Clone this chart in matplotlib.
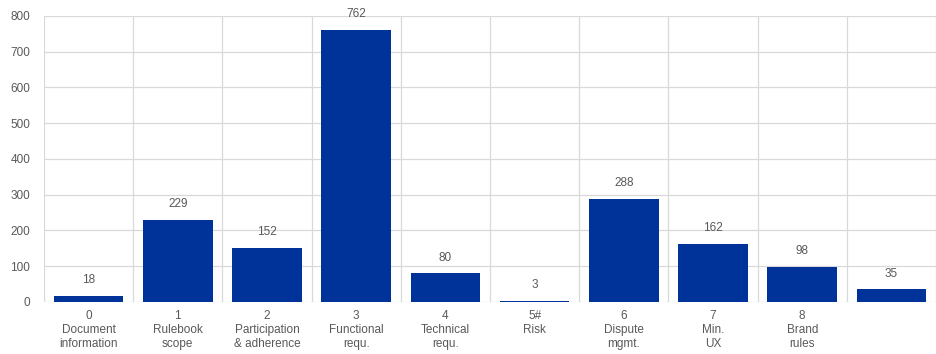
import numpy as np
import matplotlib.pyplot as plt

plt.rcParams['font.family'] = ['Liberation Sans', 'DejaVu Sans']

codes = ['0', '1', '2', '3', '4', '5#', '6', '7', '8', '']
names = ['Document\ninformation', 'Rulebook\nscope', 'Participation\n& adherence',
         'Functional\nrequ.', 'Technical\nrequ.', 'Risk', 'Dispute\nmgmt.',
         'Min.\nUX', 'Brand\nrules', '']
counts = [18, 229, 152, 762, 80, 3, 288, 162, 98, 35]

bar_color = '#003399'
text_color = '#595959'
grid_color = '#d9d9d9'

fig = plt.figure(figsize=(9.36, 3.54), dpi=100)
ax = fig.add_axes([0.047, 0.147, 0.953, 0.808])

x = np.arange(len(counts))
ax.bar(x, counts, width=0.78, color=bar_color, zorder=3)

for xi, v in zip(x, counts):
    ax.annotate(str(v), (xi, v), xytext=(0, 7), textcoords='offset points',
                ha='center', va='bottom', fontsize=8.5, color=text_color)

labels = [(c + '\n' + n).strip('\n') if c else '' for c, n in zip(codes, names)]
ax.set_xticks(x)
ax.set_xticklabels(labels, fontsize=8.5, color=text_color, linespacing=1.2)
ax.set_xticks(np.arange(-0.5, len(counts), 1), minor=True)
ax.set_xlim(-0.5, len(counts) - 0.5)

ax.set_ylim(0, 800)
ax.set_yticks(np.arange(0, 801, 100))
ax.tick_params(axis='y', labelsize=8.5, labelcolor=text_color, length=0, pad=10)
ax.tick_params(axis='x', which='both', length=0, pad=6)

ax.grid(True, axis='y', color=grid_color, linewidth=0.9, zorder=0)
ax.grid(True, axis='x', which='minor', color=grid_color, linewidth=0.9, zorder=0)
ax.grid(False, axis='x', which='major')
for s in ax.spines.values():
    s.set_visible(False)

fig.savefig('out.png', dpi=100)
